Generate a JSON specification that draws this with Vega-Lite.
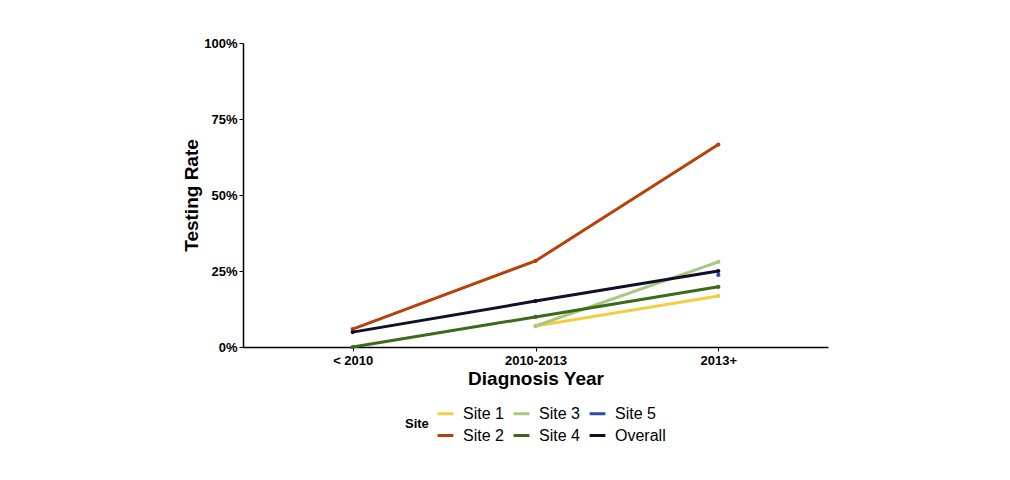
{
  "$schema": "https://vega.github.io/schema/vega-lite/v6.json",
  "width": 585,
  "height": 304,
  "autosize": {"type": "none"},
  "padding": {"left": 243, "top": 43, "right": 182, "bottom": 133},
  "background": "white",
  "config": {
    "view": {"stroke": null},
    "font": "Liberation Sans",
    "axis": {"grid": false, "domainColor": "black", "domainWidth": 1.5, "tickColor": "black", "tickSize": 4, "labelColor": "black", "labelFont": "Liberation Sans", "labelFontWeight": "bold", "labelFontSize": 13, "titleFont": "Liberation Sans", "titleFontWeight": "bold", "titleColor": "black", "titleFontSize": 19}
  },
  "data": {
    "values": [
      {"site": "Site 1", "year": "2010-2013", "rate": 0.069},
      {"site": "Site 1", "year": "2013+", "rate": 0.168},
      {"site": "Site 2", "year": "< 2010", "rate": 0.059},
      {"site": "Site 2", "year": "2010-2013", "rate": 0.283},
      {"site": "Site 2", "year": "2013+", "rate": 0.666},
      {"site": "Site 3", "year": "2010-2013", "rate": 0.069},
      {"site": "Site 3", "year": "2013+", "rate": 0.28},
      {"site": "Site 4", "year": "< 2010", "rate": 0.0},
      {"site": "Site 4", "year": "2010-2013", "rate": 0.099},
      {"site": "Site 4", "year": "2013+", "rate": 0.198},
      {"site": "Site 5", "year": "2013+", "rate": 0.237},
      {"site": "Overall", "year": "< 2010", "rate": 0.049},
      {"site": "Overall", "year": "2010-2013", "rate": 0.151},
      {"site": "Overall", "year": "2013+", "rate": 0.25}
    ]
  },
  "encoding": {
    "x": {"field": "year", "type": "ordinal", "sort": ["< 2010", "2010-2013", "2013+"], "scale": {"type": "point", "padding": 0.6}, "axis": {"title": "Diagnosis Year", "labelAngle": 0, "titlePadding": 2, "labelPadding": 3}},
    "y": {"field": "rate", "type": "quantitative", "scale": {"domain": [0, 1]}, "axis": {"title": "Testing Rate", "values": [0, 0.25, 0.5, 0.75, 1], "format": ".0%", "titlePadding": 2, "labelPadding": 2}},
    "color": {
      "field": "site", "type": "nominal",
      "scale": {"domain": ["Site 1", "Site 3", "Site 5", "Site 2", "Site 4", "Overall"], "range": ["#f0d040", "#a8c880", "#2a4ab0", "#b8400a", "#3a6a1a", "#101028"]},
      "legend": {"title": "Site", "orient": "none", "legendX": 162, "legendY": 361, "direction": "horizontal", "columns": 3, "titleOrient": "left", "titleFontWeight": "bold", "titleFontSize": 13, "titleColor": "black", "labelFontSize": 16, "labelColor": "black", "labelOffset": 8, "symbolType": "stroke", "symbolStrokeWidth": 3, "symbolSize": 250, "rowPadding": 4, "columnPadding": 3, "titleAnchor": "middle", "titleBaseline": "middle", "titlePadding": 7}
    }
  },
  "layer": [
    {"mark": {"type": "line", "strokeWidth": 3}},
    {"mark": {"type": "point", "filled": true, "size": 18, "opacity": 1}}
  ]
}
